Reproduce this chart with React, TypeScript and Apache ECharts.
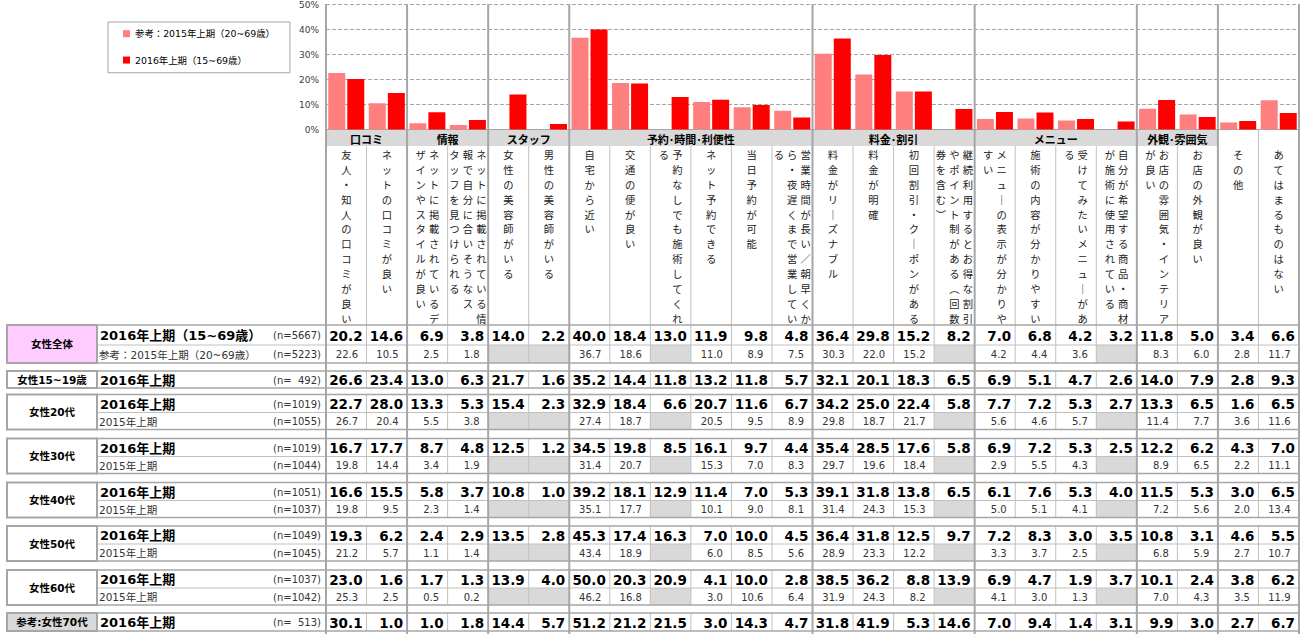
import React, { useEffect, useRef } from 'react';
import * as echarts from 'echarts';

const W = 1307;
const H = 634;
const GL = 326;
const GR = 1299;
const COLW = (GR - GL) / 24;
const FONT = "'DejaVu Sans', 'Noto Sans CJK JP', sans-serif";
const JFONT = "'Noto Sans CJK JP', sans-serif";

const LEG2015 = '参考：2015年上期（20~69歳）';
const LEG2016 = '2016年上期（15~69歳）';

const categories = [
  '友人・知人の口コミが良い', 'ネットの口コミが良い', 'ネットに掲載されているデザインやスタイルが良い',
  'ネットに掲載されている情報で自分に合いそうなスタッフを見つけられる', '女性の美容師がいる', '男性の美容師がいる',
  '自宅から近い', '交通の便が良い', '予約なしでも施術してくれる', 'ネット予約できる', '当日予約が可能',
  '営業時間が長い／朝早くから・夜遅くまで営業している', '料金がリーズナブル', '料金が明確', '初回割引・クーポンがある',
  '継続利用するとお得な割引やポイント制がある（回数券を含む）', 'メニューの表示が分かりやすい', '施術の内容が分かりやすい',
  '受けてみたいメニューがある', '自分が希望する商品・商材が施術に使用されている', 'お店の雰囲気・インテリアが良い',
  'お店の外観が良い', 'その他', 'あてはまるものはない',
];

const labelColumns: string[][] = [
  ['友人・知人の口コミが良い'],
  ['ネットの口コミが良い'],
  ['ネットに掲載されているデ', 'ザインやスタイルが良い'],
  ['ネットに掲載されている情', '報で自分に合いそうなス', 'タッフを見つけられる'],
  ['女性の美容師がいる'],
  ['男性の美容師がいる'],
  ['自宅から近い'],
  ['交通の便が良い'],
  ['予約なしでも施術してくれ', 'る'],
  ['ネット予約できる'],
  ['当日予約が可能'],
  ['営業時間が長い／朝早くか', 'ら・夜遅くまで営業してい', 'る'],
  ['料金がリーズナブル'],
  ['料金が明確'],
  ['初回割引・クーポンがある'],
  ['継続利用するとお得な割引', 'やポイント制がある（回数', '券を含む）'],
  ['メニューの表示が分かりや', 'すい'],
  ['施術の内容が分かりやすい'],
  ['受けてみたいメニューがあ', 'る'],
  ['自分が希望する商品・商材', 'が施術に使用されている'],
  ['お店の雰囲気・インテリア', 'が良い'],
  ['お店の外観が良い'],
  ['その他'],
  ['あてはまるものはない'],
];

const groupNames = ['口コミ', '情報', 'スタッフ', '予約･時間･利便性', '料金･割引', 'メニュー', '外観･雰囲気'];
const groupStarts = [0, 2, 4, 6, 12, 16, 20];
const groupSpans = [2, 2, 2, 6, 4, 4, 2];
const groupBoundaries = [0, 2, 4, 6, 12, 16, 20, 22, 24];

const segmentNames = ['女性全体', '女性15~19歳', '女性20代', '女性30代', '女性40代', '女性50代', '女性60代', '参考:女性70代'];
const titles2016 = ['2016年上期（15~69歳）', '2016年上期', '2016年上期', '2016年上期', '2016年上期', '2016年上期', '2016年上期', '2016年上期'];
const titles2015 = ['参考：2015年上期（20~69歳）', null, '2015年上期', '2015年上期', '2015年上期', '2015年上期', '2015年上期', null];
const n2016 = [5667, 492, 1019, 1019, 1051, 1049, 1037, 513];
const n2015 = [5223, null, 1055, 1044, 1037, 1045, 1042, null];

type V = number | null;
const all2016: V[] = [20.2, 14.6, 6.9, 3.8, 14.0, 2.2, 40.0, 18.4, 13.0, 11.9, 9.8, 4.8, 36.4, 29.8, 15.2, 8.2, 7.0, 6.8, 4.2, 3.2, 11.8, 5.0, 3.4, 6.6];
const all2015: V[] = [22.6, 10.5, 2.5, 1.8, null, null, 36.7, 18.6, null, 11.0, 8.9, 7.5, 30.3, 22.0, 15.2, null, 4.2, 4.4, 3.6, null, 8.3, 6.0, 2.8, 11.7];
const teen2016: V[] = [26.6, 23.4, 13.0, 6.3, 21.7, 1.6, 35.2, 14.4, 11.8, 13.2, 11.8, 5.7, 32.1, 20.1, 18.3, 6.5, 6.9, 5.1, 4.7, 2.6, 14.0, 7.9, 2.8, 9.3];
const s20_2016: V[] = [22.7, 28.0, 13.3, 5.3, 15.4, 2.3, 32.9, 18.4, 6.6, 20.7, 11.6, 6.7, 34.2, 25.0, 22.4, 5.8, 7.7, 7.2, 5.3, 2.7, 13.3, 6.5, 1.6, 6.5];
const s20_2015: V[] = [26.7, 20.4, 5.5, 3.8, null, null, 27.4, 18.7, null, 20.5, 9.5, 8.9, 29.8, 18.7, 21.7, null, 5.6, 4.6, 5.7, null, 11.4, 7.7, 3.6, 11.6];
const s30_2016: V[] = [16.7, 17.7, 8.7, 4.8, 12.5, 1.2, 34.5, 19.8, 8.5, 16.1, 9.7, 4.4, 35.4, 28.5, 17.6, 5.8, 6.9, 7.2, 5.3, 2.5, 12.2, 6.2, 4.3, 7.0];
const s30_2015: V[] = [19.8, 14.4, 3.4, 1.9, null, null, 31.4, 20.7, null, 15.3, 7.0, 8.3, 29.7, 19.6, 18.4, null, 2.9, 5.5, 4.3, null, 8.9, 6.5, 2.2, 11.1];
const s40_2016: V[] = [16.6, 15.5, 5.8, 3.7, 10.8, 1.0, 39.2, 18.1, 12.9, 11.4, 7.0, 5.3, 39.1, 31.8, 13.8, 6.5, 6.1, 7.6, 5.3, 4.0, 11.5, 5.3, 3.0, 6.5];
const s40_2015: V[] = [19.8, 9.5, 2.3, 1.4, null, null, 35.1, 17.7, null, 10.1, 9.0, 8.1, 31.4, 24.3, 15.3, null, 5.0, 5.1, 4.1, null, 7.2, 5.6, 2.0, 13.4];
const s50_2016: V[] = [19.3, 6.2, 2.4, 2.9, 13.5, 2.8, 45.3, 17.4, 16.3, 7.0, 10.0, 4.5, 36.4, 31.8, 12.5, 9.7, 7.2, 8.3, 3.0, 3.5, 10.8, 3.1, 4.6, 5.5];
const s50_2015: V[] = [21.2, 5.7, 1.1, 1.4, null, null, 43.4, 18.9, null, 6.0, 8.5, 5.6, 28.9, 23.3, 12.2, null, 3.3, 3.7, 2.5, null, 6.8, 5.9, 2.7, 10.7];
const s60_2016: V[] = [23.0, 1.6, 1.7, 1.3, 13.9, 4.0, 50.0, 20.3, 20.9, 4.1, 10.0, 2.8, 38.5, 36.2, 8.8, 13.9, 6.9, 4.7, 1.9, 3.7, 10.1, 2.4, 3.8, 6.2];
const s60_2015: V[] = [25.3, 2.5, 0.5, 0.2, null, null, 46.2, 16.8, null, 3.0, 10.6, 6.4, 31.9, 24.3, 8.2, null, 4.1, 3.0, 1.3, null, 7.0, 4.3, 3.5, 11.9];
const s70_2016: V[] = [30.1, 1.0, 1.0, 1.8, 14.4, 5.7, 51.2, 21.2, 21.5, 3.0, 14.3, 4.7, 31.8, 41.9, 5.3, 14.6, 7.0, 9.4, 1.4, 3.1, 9.9, 3.0, 2.7, 6.7];

const rows2016 = [all2016, teen2016, s20_2016, s30_2016, s40_2016, s50_2016, s60_2016, s70_2016];
const rows2015 = [all2015, null, s20_2015, s30_2015, s40_2015, s50_2015, s60_2015, null];

// layout (positions, not data)
const blockTop = [325, 371, 394.5, 438.5, 482.5, 526, 570, 613];
const row1H = [20, 17, 18, 18, 18, 18, 18, 18];
const row2H = [18, 0, 17, 17, 17, 17, 17, 0];
const segFill = ['#FFCCFF', '#ffffff', '#ffffff', '#ffffff', '#ffffff', '#ffffff', '#ffffff', '#D9D9D9'];

const VMAP: Record<string, string> = { 'ー': '｜', '（': '︵', '）': '︶' };
const toVertical = (s: string) => Array.from(s).map((c) => VMAP[c] ?? c).join('\n');
const colX = (i: number) => GL + i * COLW;
const nText = (n: number) => `(n=${String(n).padStart(4, '\u2007')})`;

function txt(x: number, y: number, text: string, o: any = {}) {
  const align = o.align || 'left';
  const va = o.va || 'middle';
  return {
    type: 'text', x, y, silent: true, z: 10,
    style: {
      text,
      fill: o.fill || '#000',
      fontSize: o.fontSize || 11,
      fontWeight: o.fontWeight || 'normal',
      fontFamily: o.fontFamily || FONT,
      lineHeight: o.lineHeight,
      align, verticalAlign: va, textAlign: align, textVerticalAlign: va,
    },
  };
}
const line = (x1: number, y1: number, x2: number, y2: number, stroke: string, lw: number) => ({
  type: 'line', silent: true, z: 5, shape: { x1, y1, x2, y2 }, style: { stroke, lineWidth: lw },
});
const rect = (x: number, y: number, w: number, h: number, style: any, z = 4) => ({
  type: 'rect', silent: true, z, shape: { x, y, width: w, height: h }, style,
});

function buildGraphics() {
  const G: any[] = [];
  const THIN = '#c0c0c0';
  const THICK = '#a6a6a6';
  // group header band
  groupNames.forEach((name, g) => {
    const x = colX(groupStarts[g]);
    const w = groupSpans[g] * COLW;
    G.push(rect(x, 130, w, 16, { fill: '#d9d9d9' }, 3));
    G.push(txt(x + w / 2, 138.5, name, { align: 'center', fontSize: 11, fontWeight: 'bold', fontFamily: JFONT }));
  });
  // vertical category labels (columns right to left)
  labelColumns.forEach((cols, i) => {
    const cx = colX(i) + COLW / 2;
    const k = cols.length;
    cols.forEach((s, j) => {
      const x = cx + ((k - 1) / 2 - j) * 13.4;
      G.push(txt(x, 147, toVertical(s), { align: 'center', va: 'top', fontSize: 10.3, lineHeight: 14.9, fontFamily: JFONT, fill: '#222' }));
    });
  });
  // thin column lines in label area
  for (let b = 1; b < 24; b++) {
    if (groupBoundaries.includes(b)) continue;
    G.push(line(colX(b), b === 23 ? 130 : 146, colX(b), 325, THIN, 1));
  }
  // table blocks
  segmentNames.forEach((seg, b) => {
    const top = blockTop[b];
    const h1 = row1H[b];
    const h2 = row2H[b];
    const bottom = top + h1 + h2;
    const v16 = rows2016[b];
    const v15 = rows2015[b];
    G.push(rect(97, top, GR - 97, bottom - top, { fill: '#ffffff' }, 3));
    if (v15) {
      v15.forEach((v, i) => {
        if (v == null) G.push(rect(colX(i), top + h1, COLW, h2, { fill: '#d9d9d9' }, 3));
      });
    }
    G.push(rect(7, top, 90, bottom - top, { fill: segFill[b], stroke: THICK, lineWidth: 2 }, 6));
    G.push(rect(97, top, GR - 97, bottom - top, { fill: 'none', stroke: THICK, lineWidth: 1.5 }, 6));
    if (v15) G.push(line(97, top + h1, GR, top + h1, THIN, 1));
    for (let c = 1; c < 24; c++) {
      if (groupBoundaries.includes(c)) continue;
      G.push(line(colX(c), top, colX(c), bottom, THIN, 1));
    }
    G.push(txt(52, (top + bottom) / 2, seg, { align: 'center', fontSize: 10.5, fontWeight: 'bold', fill: '#000' }));
    const y1 = top + h1 / 2 + 0.5;
    G.push(txt(100, y1, titles2016[b], { fontSize: 13, fontWeight: 'bold' }));
    G.push(txt(321, y1, nText(n2016[b]), { align: 'right', fontSize: 10, fill: '#333' }));
    v16.forEach((v, i) => {
      if (v != null) G.push(txt(colX(i + 1) - 4, y1, v.toFixed(1), { align: 'right', fontSize: 13.5, fontWeight: 'bold' }));
    });
    if (v15) {
      const y2 = top + h1 + h2 / 2 + 0.5;
      G.push(txt(99, y2, titles2015[b] as string, { fontSize: 10.5, fill: '#333' }));
      G.push(txt(321, y2, nText(n2015[b] as number), { align: 'right', fontSize: 10, fill: '#333' }));
      v15.forEach((v, i) => {
        if (v != null) G.push(txt(colX(i + 1) - 8.5, y2, v.toFixed(1), { align: 'right', fontSize: 10, fill: '#333' }));
      });
    }
  });
  // group boundary lines (continuous)
  groupBoundaries.forEach((b) => {
    G.push(line(colX(b), 4, colX(b), H, THICK, 2));
  });
  return G;
}

function buildOption(): any {
  return {
    animation: false,
    textStyle: { fontFamily: FONT },
    legend: {
      left: 108, top: 22, orient: 'vertical', icon: 'rect', itemWidth: 7, itemHeight: 7, itemGap: 17,
      padding: [7, 15, 8, 15], borderColor: '#a6a6a6', borderWidth: 1,
      textStyle: { fontSize: 9.4, color: '#000', fontFamily: FONT },
      data: [LEG2015, LEG2016],
    },
    grid: { left: GL, right: W - GR, top: 4, height: 125.5, containLabel: false },
    xAxis: {
      type: 'category', data: categories, boundaryGap: true,
      axisLabel: { show: false }, axisTick: { show: false },
      axisLine: { show: true, lineStyle: { color: '#a6a6a6', width: 1 } },
    },
    yAxis: {
      type: 'value', min: 0, max: 50, interval: 10,
      axisLabel: { formatter: '{value}%', fontSize: 9, color: '#404040', margin: 7, fontFamily: FONT },
      axisLine: { show: false }, axisTick: { show: false },
      splitLine: { lineStyle: { color: '#a6a6a6', type: 'dashed', width: 1 } },
    },
    series: [
      { name: LEG2015, type: 'bar', data: all2015, barWidth: 17, barGap: '12%', itemStyle: { color: '#FF7F7F' } },
      { name: LEG2016, type: 'bar', data: all2016, barWidth: 17, itemStyle: { color: '#FF0000' } },
    ],
    graphic: { elements: buildGraphics() },
  };
}

export default function App() {
  const ref = useRef<HTMLDivElement>(null);
  useEffect(() => {
    const chart = echarts.init(ref.current!, undefined, { renderer: 'svg', width: W, height: H });
    chart.setOption(buildOption());
    return () => chart.dispose();
  }, []);
  return <div ref={ref} style={{ position: 'fixed', left: 0, top: 0, width: W, height: H, background: '#fff' }} />;
}
